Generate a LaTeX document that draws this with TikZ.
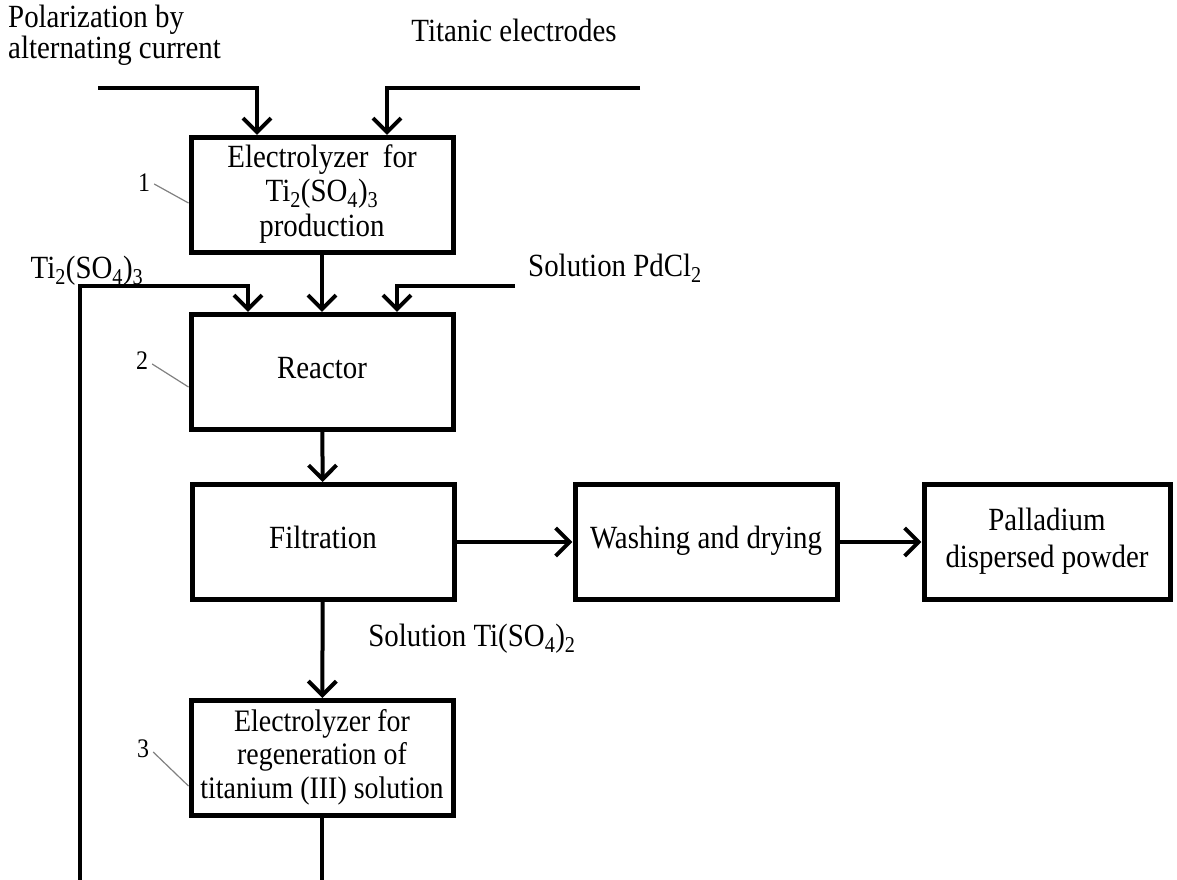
\documentclass[tikz,border=0pt]{standalone}
\usepackage{graphicx}
\usepackage{fontspec}
\setmainfont{Liberation Serif}
\usetikzlibrary{arrows.meta}
\newcommand{\vs}[2][c]{\scalebox{1}[1.12]{\begin{tabular}{@{}#1@{}}#2\end{tabular}}}
\newcommand{\lowsub}[1]{\textsubscript{#1}}
\begin{document}
\begin{tikzpicture}[x=1bp,y=-1bp,
  box/.style={draw, line width=5bp, minimum width=#1, minimum height=115bp, inner sep=1bp, align=center, font={\fontsize{29}{30}\selectfont}},
  flow/.style={line width=4bp, -{Straight Barb[length=14bp,width=28bp]}},
  plain/.style={line width=4bp},
  lead/.style={draw=gray, line width=1.2bp},
  lbl/.style={font={\fontsize{29}{30}\selectfont}, inner sep=0bp},
]
\useasboundingbox (0,0) rectangle (1177,880);
% boxes
\node[box=262bp, font={\fontsize{29}{31}\selectfont}] (e1) at (322,195) {\vs{Electrolyzer\ \ for\\Ti\lowsub{2}(SO\lowsub{4})\lowsub{3}\\production}};
\node[box=262bp] (reac) at (322,372) {\raisebox{8bp}{\vs{Reactor}}};
\node[box=262bp] (filt) at (323,542) {\raisebox{4bp}{\vs{Filtration}}};
\node[box=262bp] (wash) at (706,542) {\raisebox{7bp}{\vs{Washing and drying}}};
\node[box=246bp, font={\fontsize{29}{33}\selectfont}] (pd) at (1047,542) {\raisebox{3bp}{\vs{Palladium\\dispersed powder}}};
\node[box=262bp, font={\fontsize{28}{30}\selectfont}] (e3) at (322,758) {\vs{Electrolyzer for\\regeneration of\\titanium (III) solution}};
% labels
\node[lbl, font={\fontsize{29}{25}\selectfont}, anchor=west] (pol) at (8,36) {\vs[l]{Polarization by\\alternating current}};
\node[lbl] (tit) at (514,35) {\vs{Titanic electrodes}};
\node[lbl] (tiin) at (87,272) {\vs{Ti\lowsub{2}(SO\lowsub{4})\lowsub{3}}};
\node[lbl] (pdcl) at (615,270) {\vs{Solution PdCl\lowsub{2}}};
\node[lbl] (tiout) at (472,640) {\vs{Solution Ti(SO\lowsub{4})\lowsub{2}}};
\node[lbl, font={\fontsize{24}{26}\selectfont}] (n1) at (144,186) {\vs{1}};
\node[lbl, font={\fontsize{24}{26}\selectfont}] (n2) at (142,364) {\vs{2}};
\node[lbl, font={\fontsize{24}{26}\selectfont}] (n3) at (143,752) {\vs{3}};
% free ends
\coordinate (polS) at (98,88);
\coordinate (titS) at (640,88);
\coordinate (tiS) at (80,880);
\coordinate (tiC) at (80,286);
\coordinate (pdS) at (515,286);
\coordinate (e3out) at (322,880);
% connectors
\draw[flow] (polS) -| ([xshift=-65bp]e1.north);
\draw[flow] (titS) -| ([xshift=65bp]e1.north);
\draw[flow] (e1) -- (reac);
\draw[flow] (tiS) -- (tiC) -| ([xshift=-74bp]reac.north);
\draw[flow] (pdS) -| ([xshift=75bp]reac.north);
\draw[flow] (reac) -- (filt);
\draw[flow] (filt) -- (wash);
\draw[flow] (wash) -- (pd);
\draw[flow] (filt) -- (e3);
\draw[plain] (e3) -- (e3out);
% leaders
\draw[lead] ([xshift=4bp,yshift=2bp]n1.east) -- ([yshift=-8bp]e1.west);
\draw[lead] ([xshift=4bp]n2.east) -- ([yshift=-15bp]reac.west);
\draw[lead] ([xshift=4bp]n3.east) -- ([yshift=-28bp]e3.west);
\end{tikzpicture}
\end{document}
